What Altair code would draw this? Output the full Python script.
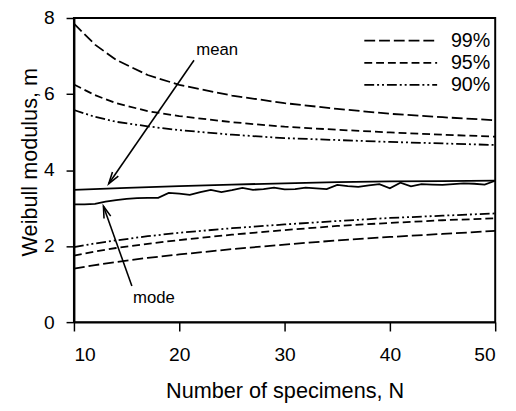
import altair as alt
import pandas as pd

# ---- data ----
N_BOUND = [10, 12, 14, 17, 20, 25, 30, 35, 40, 45, 50]
UPPER_99 = [7.85, 7.30, 6.90, 6.50, 6.24, 5.96, 5.76, 5.61, 5.48, 5.39, 5.31]
UPPER_95 = [6.25, 5.97, 5.76, 5.55, 5.42, 5.26, 5.14, 5.06, 4.99, 4.93, 4.88]
UPPER_90 = [5.58, 5.40, 5.27, 5.15, 5.05, 4.93, 4.84, 4.79, 4.74, 4.70, 4.66]
LOWER_90 = [1.97, 2.07, 2.15, 2.26, 2.35, 2.47, 2.57, 2.66, 2.74, 2.80, 2.86]
LOWER_95 = [1.75, 1.86, 1.95, 2.06, 2.16, 2.30, 2.42, 2.53, 2.61, 2.68, 2.73]
LOWER_99 = [1.41, 1.50, 1.58, 1.69, 1.78, 1.92, 2.04, 2.15, 2.24, 2.32, 2.40]
LEVELS = ["99%", "95%", "90%"]

N_MEAN = [10, 15, 20, 25, 30, 35, 40, 45, 50]
MEAN = [3.48, 3.53, 3.58, 3.62, 3.65, 3.68, 3.70, 3.71, 3.72]

N_MODE = list(range(10, 51))
MODE = [3.10, 3.10, 3.11, 3.17, 3.21, 3.24, 3.26, 3.27, 3.27, 3.40,
        3.38, 3.35, 3.42, 3.48, 3.42, 3.47, 3.53, 3.48, 3.50, 3.54,
        3.49, 3.50, 3.54, 3.52, 3.50, 3.61, 3.58, 3.56, 3.60, 3.63,
        3.52, 3.67, 3.57, 3.63, 3.62, 3.61, 3.63, 3.65, 3.64, 3.62,
        3.72]

# annotations (label, text position, arrow start, arrow tip) in data units
ANN_LABELS = ["mean", "mode"]
ANN_TEXT_N = [23.6, 17.6]
ANN_TEXT_M = [7.15, 0.62]
ANN_FROM_N = [21.4, 15.5]
ANN_FROM_M = [6.89, 0.95]
ANN_TIP_N = [13.3, 12.8]
ANN_TIP_M = [3.64, 3.05]
ANN_ANGLE = [214.5, 340.5]

FONT = "Liberation Sans"

# ---- tables ----
rows = []
bounds = {
    ("99%", "upper"): UPPER_99, ("95%", "upper"): UPPER_95, ("90%", "upper"): UPPER_90,
    ("99%", "lower"): LOWER_99, ("95%", "lower"): LOWER_95, ("90%", "lower"): LOWER_90,
}
for (lvl, side), vals in bounds.items():
    for n, v in zip(N_BOUND, vals):
        rows.append({"N": n, "m": v, "level": lvl, "side": side})
bound_df = pd.DataFrame(rows)

est_rows = [{"N": n, "m": v, "stat": "mean"} for n, v in zip(N_MEAN, MEAN)]
est_rows += [{"N": n, "m": v, "stat": "mode"} for n, v in zip(N_MODE, MODE)]
est_df = pd.DataFrame(est_rows)

ann_df = pd.DataFrame({
    "label": ANN_LABELS, "tn": ANN_TEXT_N, "tm": ANN_TEXT_M,
    "fn": ANN_FROM_N, "fm": ANN_FROM_M, "pn": ANN_TIP_N, "pm": ANN_TIP_M,
    "angle": ANN_ANGLE,
})

xscale = alt.Scale(domain=[10, 50], nice=False, zero=False)
yscale = alt.Scale(domain=[0, 8], nice=False)

xaxis = alt.Axis(values=[10, 20, 30, 40, 50], title="Number of specimens, N",
                 grid=False, tickSize=9, labelPadding=14.5, labelFontSize=19.5,
                 titleFontSize=22, titleFontWeight="normal", titleBaseline="alphabetic",
                 titleY=77, titleX=214, labelFont=FONT, titleFont=FONT,
                 domainColor="black", tickColor="black", labelColor="black",
                 titleColor="black", domainWidth=2, tickWidth=1.5)
yaxis = alt.Axis(values=[0, 2, 4, 6, 8], title="Weibull modulus, m",
                 grid=False, tickSize=8, labelPadding=12, labelFontSize=19.5,
                 titleFontSize=22, titleFontWeight="normal", titleBaseline="alphabetic",
                 titleX=-38, titleY=146, titleAngle=-90, titleAlign="center",
                 labelFont=FONT, titleFont=FONT,
                 domainColor="black", tickColor="black", labelColor="black",
                 titleColor="black", domainWidth=2, tickWidth=1.5)

bound_lines = alt.Chart(bound_df).mark_line(color="black", strokeWidth=1.8).encode(
    x=alt.X("N:Q", scale=xscale, axis=xaxis),
    y=alt.Y("m:Q", scale=yscale, axis=yaxis),
    strokeDash=alt.StrokeDash(
        "level:N",
        scale=alt.Scale(domain=LEVELS, range=[[11, 4], [8, 4], [10, 3, 2, 3, 2, 3]]),
        legend=alt.Legend(
            title=None, orient="none", legendX=322, legendY=13,
            symbolType="M-12,0H12", symbolSize=38, symbolStrokeColor="black",
            symbolStrokeWidth=1.8, labelOffset=41, labelFontSize=20,
            labelFont=FONT, labelColor="black", rowPadding=2.5, padding=0,
        ),
    ),
    detail="side:N",
    order="N:Q",
)

est_lines = alt.Chart(est_df).mark_line(color="black", strokeWidth=1.8).encode(
    x=alt.X("N:Q", scale=xscale),
    y=alt.Y("m:Q", scale=yscale),
    detail="stat:N",
    order="N:Q",
)

arrows = alt.Chart(ann_df).mark_rule(color="black", strokeWidth=1.6).encode(
    x=alt.X("fn:Q", scale=xscale), y=alt.Y("fm:Q", scale=yscale),
    x2="pn:Q", y2="pm:Q",
)

heads = alt.Chart(ann_df).mark_point(
    shape="M-0.6,2L0,0L0.6,2", size=144, filled=False, color="black",
    strokeWidth=1.6, opacity=1,
).encode(
    x=alt.X("pn:Q", scale=xscale), y=alt.Y("pm:Q", scale=yscale),
    angle=alt.Angle("angle:Q", scale=None),
)

labels = alt.Chart(ann_df).mark_text(
    font=FONT, fontSize=17, color="black", align="center", baseline="middle",
).encode(
    x=alt.X("tn:Q", scale=xscale), y=alt.Y("tm:Q", scale=yscale), text="label:N",
)

chart = alt.layer(bound_lines, est_lines, arrows, heads, labels).properties(
    width=428, height=309,
    autosize=alt.AutoSizeParams(type="none"),
    padding={"left": 67, "top": 7, "right": 13, "bottom": 79},
    background="white",
).configure_view(stroke="black", strokeWidth=2)

chart.save("out.html", embed_options={"renderer": "svg", "actions": False})
